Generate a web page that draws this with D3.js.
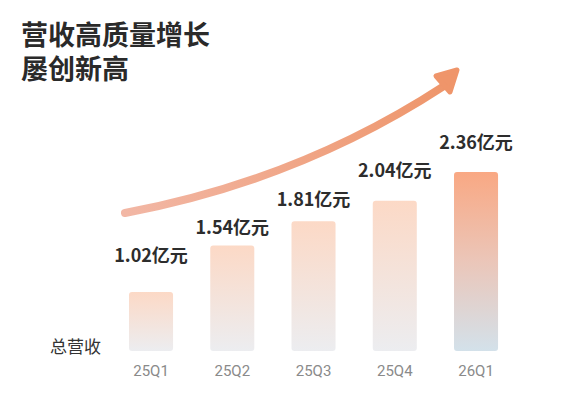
<!DOCTYPE html>
<html>
<head>
<meta charset="utf-8">
<script src="https://cdn.jsdelivr.net/npm/d3@7"></script>
<style>
    html, body { margin: 0; padding: 0; background: #fff; }
    svg { display: block; }
    .title { font-family: "Noto Sans CJK SC", sans-serif; font-weight: 700; fill: #2a2a2a; }
    .value { font-family: "Noto Sans CJK SC", sans-serif; font-weight: 700; fill: #2d2d2d; }
    .tick-label { font-family: Roboto, "Noto Sans", sans-serif; font-weight: 400; fill: #8a8a8a; }
    .ylabel { font-family: "Noto Sans CJK SC", sans-serif; fill: #333; }
</style>
</head>
<body>
<div id="chart"></div>
<script>
;(function () {

    var quarters = ['25Q1', '25Q2', '25Q3', '25Q4', '26Q1'];
    var revenue = [1.02, 1.54, 1.81, 2.04, 2.36];
    var valueLabels = ['1.02亿元', '1.54亿元', '1.81亿元', '2.04亿元', '2.36亿元'];
    var titleLines = ['营收高质量增长', '屡创新高'];
    var seriesName = '总营收';

    var width = 586
        , height = 409
        , baseY = 351;

    var svg = d3.select('#chart').append('svg')
        .attr('width', width)
        .attr('height', height);

    var defs = svg.append('defs');

    var softGrad = defs.append('linearGradient')
        .attr('id', 'bar-soft')
        .attr('x1', 0).attr('y1', 0).attr('x2', 0).attr('y2', 1);
    softGrad.append('stop').attr('offset', '0%').attr('stop-color', '#fcd9c6');
    softGrad.append('stop').attr('offset', '100%').attr('stop-color', '#ecedf0');

    var hotGrad = defs.append('linearGradient')
        .attr('id', 'bar-hot')
        .attr('x1', 0).attr('y1', 0).attr('x2', 0).attr('y2', 1);
    hotGrad.append('stop').attr('offset', '0%').attr('stop-color', '#f9a883');
    hotGrad.append('stop').attr('offset', '50%').attr('stop-color', '#ebc6b9');
    hotGrad.append('stop').attr('offset', '100%').attr('stop-color', '#d3e1ea');

    var arrowGrad = defs.append('linearGradient')
        .attr('id', 'arrow-grad')
        .attr('gradientUnits', 'userSpaceOnUse')
        .attr('x1', 125).attr('y1', 213).attr('x2', 455).attr('y2', 72);
    arrowGrad.append('stop').attr('offset', '0%').attr('stop-color', '#f2b7a5');
    arrowGrad.append('stop').attr('offset', '100%').attr('stop-color', '#ee9468');

    // title
    svg.selectAll('.title')
        .data(titleLines)
        .enter().append('text')
        .attr('class', 'title')
        .attr('x', 21)
        .attr('y', function(d, i) { return 45 + i * 34; })
        .attr('font-size', 27)
        .text(function(d) { return d; });

    var x = d3.scaleBand()
        .domain(quarters)
        .range([112.75, 514.3])
        .paddingInner(0.458)
        .paddingOuter(0.2);

    var y = d3.scaleLinear()
        .domain([0.36, 2.36])
        .range([baseY, 172]);

    // labels climb step by step with the quarters
    var labelY = d3.scaleLinear()
        .domain([0, quarters.length - 1])
        .range([262, 149]);

    // curved arrow
    svg.append('path')
        .attr('d', 'M125,213 Q300,180 444,86')
        .attr('fill', 'none')
        .attr('stroke', 'url(#arrow-grad)')
        .attr('stroke-width', 8)
        .attr('stroke-linecap', 'round');

    svg.append('path')
        .attr('d', 'M436,76 L457,70 L450,92 Z')
        .attr('fill', '#ef956a')
        .attr('stroke', '#ef956a')
        .attr('stroke-width', 5)
        .attr('stroke-linejoin', 'round');

    // bars
    svg.selectAll('.bar')
        .data(revenue)
        .enter().append('rect')
        .attr('class', 'bar')
        .attr('x', function(d, i) { return x(quarters[i]); })
        .attr('y', function(d) { return y(d); })
        .attr('width', x.bandwidth())
        .attr('height', function(d) { return baseY - y(d); })
        .attr('rx', 3)
        .attr('fill', function(d, i) { return i === revenue.length - 1 ? 'url(#bar-hot)' : 'url(#bar-soft)'; });

    // value labels
    svg.selectAll('.value')
        .data(revenue)
        .enter().append('text')
        .attr('class', 'value')
        .attr('x', function(d, i) { return x(quarters[i]) + x.bandwidth() / 2; })
        .attr('y', function(d, i) { return labelY(i); })
        .attr('text-anchor', 'middle')
        .attr('font-size', 18)
        .text(function(d, i) { return valueLabels[i]; });

    // category axis
    var xAxis = svg.append('g')
        .attr('transform', 'translate(0,' + baseY + ')')
        .call(d3.axisBottom(x).tickSize(0).tickPadding(14));
    xAxis.select('.domain').remove();
    xAxis.selectAll('text')
        .attr('class', 'tick-label')
        .attr('font-size', 15)
        .attr('fill', '#8a8a8a');

    svg.append('text')
        .attr('class', 'ylabel')
        .attr('x', 50)
        .attr('y', 353)
        .attr('font-size', 17)
        .text(seriesName);

}());
</script>
</body>
</html>
